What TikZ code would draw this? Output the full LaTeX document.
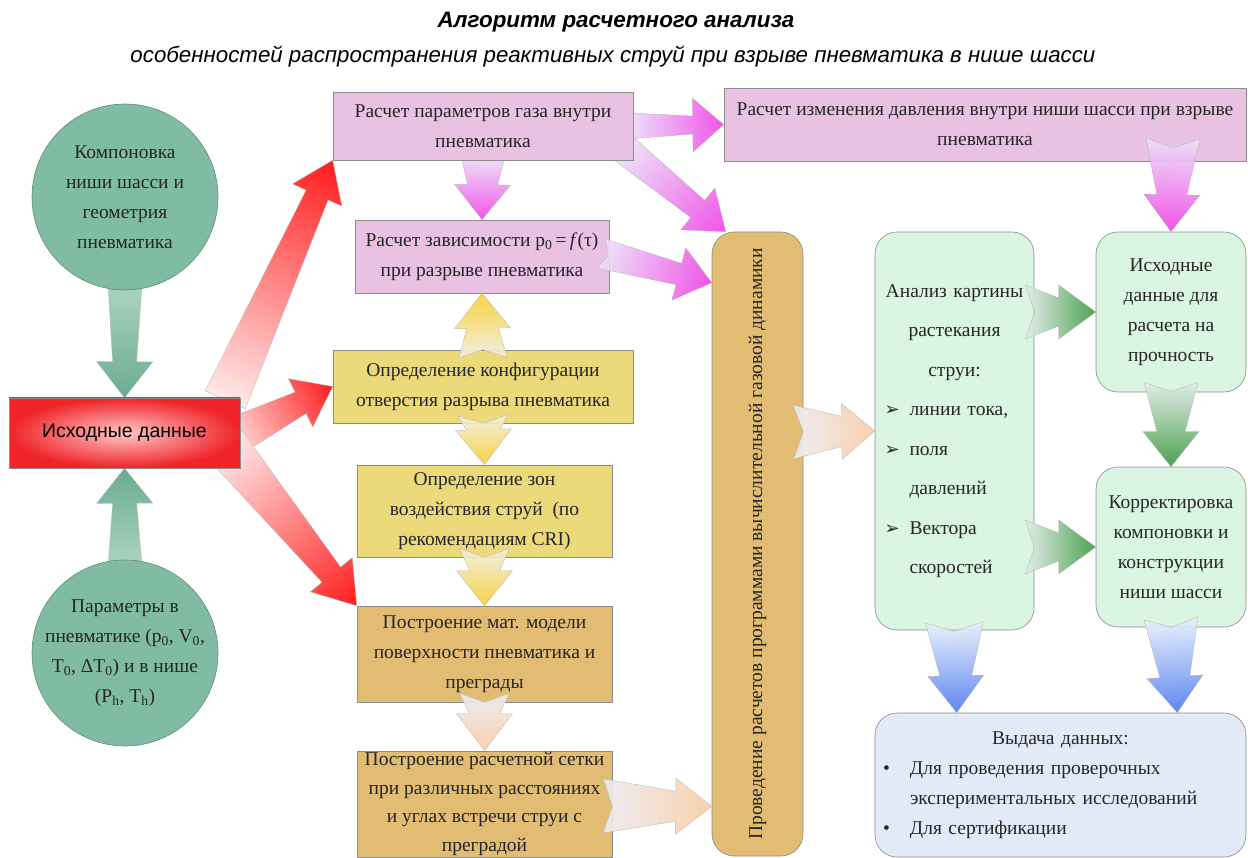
\documentclass[tikz,border=0pt]{standalone}
\usepackage{fontspec}
\setmainfont{Liberation Serif}
\newfontfamily\arialfont{Liberation Sans}
\newfontfamily\symfont{DejaVu Sans}
\usetikzlibrary{calc}

\definecolor{pinkfill}{RGB}{232,193,227}
\definecolor{yellowfill}{RGB}{236,217,122}
\definecolor{tanfill}{RGB}{226,188,114}
\definecolor{greenfill}{RGB}{218,245,225}
\definecolor{bluefill}{RGB}{227,234,247}
\definecolor{tealfill}{RGB}{128,187,163}
\definecolor{tealline}{RGB}{95,140,120}
\definecolor{boxline}{RGB}{140,140,140}
\definecolor{redcenter}{RGB}{255,200,200}
\definecolor{rededge}{RGB}{240,35,40}
% arrow colours: tail / tip
\definecolor{redtail}{RGB}{255,232,232}
\definecolor{redtip}{RGB}{255,10,10}
\definecolor{pinktail}{RGB}{236,226,250}
\definecolor{pinktip}{RGB}{240,70,230}
\definecolor{yeltail}{RGB}{242,238,225}
\definecolor{yeltip}{RGB}{248,208,50}
\definecolor{peachtail}{RGB}{236,236,242}
\definecolor{peachtip}{RGB}{250,205,165}
\definecolor{greentail}{RGB}{226,236,232}
\definecolor{greentip}{RGB}{60,155,65}
\definecolor{bluetail}{RGB}{232,240,252}
\definecolor{bluetip}{RGB}{80,125,240}
\definecolor{tealtail}{RGB}{165,208,190}
\definecolor{tealtip}{RGB}{95,165,135}

\newcommand\boxfont{\fontsize{19.5}{30}\selectfont}
\newcommand\jfont{\fontsize{19.5}{39.5}\selectfont}
\newcommand\arrowbul{\makebox[25pt][l]{\symfont\fontsize{18}{18}\selectfont ➢}}
\newcommand\arrowind{\hspace*{25pt}}
\newcommand\dotbul{\makebox[27pt][l]{•}}
\newcommand\dotind{\hspace*{27pt}}

\pgfdeclarelayer{paper}
\pgfdeclarelayer{under}
\pgfsetlayers{paper,under,main}

% fat arrow: #1 length, #2 tail, #3 neck, #4 head (half widths), #5 head length, #6 notch
\tikzset{
  pics/fatarrow/.style n args={6}{code={
    \path[pic actions] (0pt,#2pt) -- ({#1-#5pt},#3pt) -- ({#1-#5pt},#4pt) -- (#1,0pt)
      -- ({#1-#5pt},-#4pt) -- ({#1-#5pt},-#3pt) -- (0pt,-#2pt) -- (#6pt,0pt) -- cycle;
  }}
}
\newcommand\fatarrow[4]{%
  \path let \p1=(#2), \p2=(#3), \n1={atan2(\y2-\y1,\x2-\x1)}, \n2={veclen(\x2-\x1,\y2-\y1)} in
    pic[#1, transform canvas={shift={(\p1)}, rotate=\n1}] at (0pt,0pt) {fatarrow={\n2}#4};
}

\begin{document}
\begin{tikzpicture}[x=1pt,y=-1pt,
  box/.style={draw=boxline, line width=0.6pt, inner sep=0pt, font=\boxfont, text=black!85},
  pinkbox/.style={box, fill=pinkfill, align=center},
  yellowbox/.style={box, fill=yellowfill, align=center},
  tanbox/.style={box, fill=tanfill, align=center},
  greenbox/.style={box, fill=greenfill, rounded corners=22pt},
  bluebox/.style={box, fill=bluefill, rounded corners=22pt},
  tealcircle/.style={circle, draw=tealline, fill=tealfill, line width=0.6pt, minimum size=186pt,
    inner sep=-6pt, align=center, font=\boxfont, text=black!85},
  redbox/.style={draw=boxline, inner color=redcenter, outer color=rededge,
    font=\arialfont\fontsize{19.5}{24}\selectfont},
  fat/.style={draw=gray!55, line width=0.4pt, opacity=0.92},
  redarr/.style={fat, left color=redtail, right color=redtip},
  pinkarr/.style={fat, left color=pinktail, right color=pinktip},
  yelarr/.style={fat, left color=yeltail, right color=yeltip},
  peacharr/.style={fat, left color=peachtail, right color=peachtip},
  greenarr/.style={fat, left color=greentail, right color=greentip},
  bluearr/.style={fat, left color=bluetail, right color=bluetip},
  tealarr/.style={fat, left color=tealtail, right color=tealtip}
]

  \useasboundingbox (0,0) rectangle (1248,858);
  \begin{pgfonlayer}{paper}
    \fill[white] (0,0) rectangle (1248,858);
  \end{pgfonlayer}

  % titles
  \node[font=\arialfont\bfseries\itshape\fontsize{22.4}{26}\selectfont] (title) at (616,22)
    {Алгоритм расчетного анализа};
  \node[font=\arialfont\itshape\fontsize{22.3}{26}\selectfont] (subtitle) at (613,57)
    {особенностей распространения реактивных струй при взрыве пневматика в нише шасси};

  % left column
  \node[tealcircle] (layout) at (125,197) {Компоновка\\ниши шасси и\\геометрия\\пневматика};
  \node[tealcircle] (params) at (125,653) {Параметры в\\пневматике (p\textsubscript{0}, V\textsubscript{0},\\T\textsubscript{0}, ΔT\textsubscript{0}) и в нише\\(P\textsubscript{h}, T\textsubscript{h})};
  \node[redbox, minimum width=231pt, minimum height=70pt] (input) at (124.5,433) {Исходные данные};

  % middle column
  \node[pinkbox, minimum width=300pt, minimum height=68pt] (gas) at (483,126)
    {Расчет параметров газа внутри\\пневматика};
  \node[pinkbox, minimum width=522pt, minimum height=73pt] (niche) at (985,124.5)
    {Расчет изменения давления внутри ниши шасси при взрыве\\пневматика};
  \node[pinkbox, minimum width=254pt, minimum height=73pt] (ptau) at (482,256.5)
    {Расчет зависимости p\textsubscript{0}\,=\,\textit{f}(τ)\\при разрыве пневматика};
  \node[yellowbox, minimum width=300pt, minimum height=73pt] (hole) at (483,386.5)
    {Определение конфигурации\\отверстия разрыва пневматика};
  \node[yellowbox, minimum width=255pt, minimum height=92pt] (zones) at (484.5,511)
    {Определение зон\\воздействия струй\ \ (по\\рекомендациям CRI)};
  \node[tanbox, minimum width=255pt, minimum height=96pt] (model) at (484.5,654)
    {Построение мат. модели\\поверхности пневматика и\\преграды};
  \node[tanbox, minimum width=255pt, minimum height=106pt, font=\fontsize{19.5}{28.5}\selectfont] (mesh) at (484.5,804)
    {Построение расчетной сетки\\при различных расстояниях\\и углах встречи струи с\\преградой};
  \node[box, fill=tanfill, rounded corners=22pt, minimum width=91pt, minimum height=624pt] (cfd) at (757.5,544)
    {\rotatebox{90}{Проведение расчетов программами вычислительной газовой динамики}};

  % right side
  \node[greenbox, minimum width=159pt, minimum height=398pt, text width=140pt, font=\jfont] (flow) at (954.5,431)
    {\centering Анализ картины\\растекания\\струи:\par\raggedright
     \arrowbul линии тока,\\\arrowbul поля\\\arrowind давлений\\\arrowbul Вектора\\\arrowind скоростей};
  \node[greenbox, align=center, minimum width=150pt, minimum height=160pt] (strength) at (1171,312)
    {Исходные\\данные для\\расчета на\\прочность};
  \node[greenbox, align=center, minimum width=150pt, minimum height=160pt] (redesign) at (1171,547)
    {Корректировка\\компоновки и\\конструкции\\ниши шасси};
  \node[bluebox, minimum width=371pt, minimum height=144pt, text width=355pt] (output) at (1060.5,785)
    {\centering Выдача данных:\par\raggedright
     \dotbul Для проведения проверочных\\\dotind экспериментальных исследований\\\dotbul Для сертификации};

  % arrows hidden under their source
  \begin{pgfonlayer}{under}
    \fatarrow{tealarr}{$(layout.south)+(0,-6)$}{input.north}{{17}{12}{28}{36}{0}}
    \fatarrow{tealarr}{$(params.north)+(0,6)$}{input.south}{{17}{12}{28}{35}{0}}
    \fatarrow{redarr}{$(input.north east)+(-15,2)$}{gas.south west}{{22}{12}{27}{38}{0}}
    \fatarrow{redarr}{$(input.east)+(-15,8)$}{hole.west}{{20}{12}{27}{36}{0}}
    \fatarrow{redarr}{$(input.east)+(-15,12)$}{model.north west}{{22}{12}{27}{40}{0}}
    \fatarrow{pinkarr}{$(gas.south)+(0,-4)$}{ptau.north}{{22}{15}{28}{35}{0}}
    \fatarrow{pinkarr}{$(gas.east)+(-6,0)$}{niche.west}{{13}{9}{27}{31}{0}}
    \fatarrow{pinkarr}{$(gas.south east)+(-10,-12)$}{$(cfd.north west)+(14,0)$}{{15}{11}{27}{36}{0}}
  \end{pgfonlayer}

  % arrows on top
  \fatarrow{pinkarr}{$(ptau.east)+(-8,-3)$}{$(cfd.north west)+(0,51)$}{{15}{11}{27}{34}{7}}
  \fatarrow{pinkarr}{$(niche.south)+(188,-23)$}{strength.north}{{27}{15}{28}{37}{10}}
  \fatarrow{yelarr}{$(hole.north)+(0,8)$}{ptau.south}{{24}{16}{28}{35}{8}}
  \fatarrow{yelarr}{$(hole.south)+(0,-8)$}{zones.north}{{25}{17}{28}{35}{8}}
  \fatarrow{yelarr}{$(zones.south)+(0,-9)$}{model.north}{{25}{15}{28}{35}{9}}
  \fatarrow{peacharr}{$(model.south)+(0,-9)$}{mesh.north}{{25}{15}{28}{37}{9}}
  \fatarrow{peacharr}{$(mesh.east)+(-9,2)$}{$(cfd.south west)+(0,-50)$}{{27}{15}{28}{36}{9}}
  \fatarrow{peacharr}{$(cfd.east)+(-10,-112)$}{flow.west}{{27}{15}{28}{33}{10}}
  \fatarrow{greenarr}{$(flow.east)+(-9,-119)$}{strength.west}{{27}{14}{27}{37}{9}}
  \fatarrow{greenarr}{$(flow.east)+(-9,116)$}{redesign.west}{{27}{14}{27}{37}{9}}
  \fatarrow{greenarr}{$(strength.south)+(0,-10)$}{redesign.north}{{27}{14}{28}{35}{9}}
  \fatarrow{bluearr}{$(flow.south)+(0,-8)$}{$(output.north west)+(82,0)$}{{29}{16}{28}{37}{9}}
  \fatarrow{bluearr}{$(redesign.south)+(0,-9)$}{$(output.north east)+(-69,0)$}{{27}{15}{28}{36}{9}}

\end{tikzpicture}
\end{document}
